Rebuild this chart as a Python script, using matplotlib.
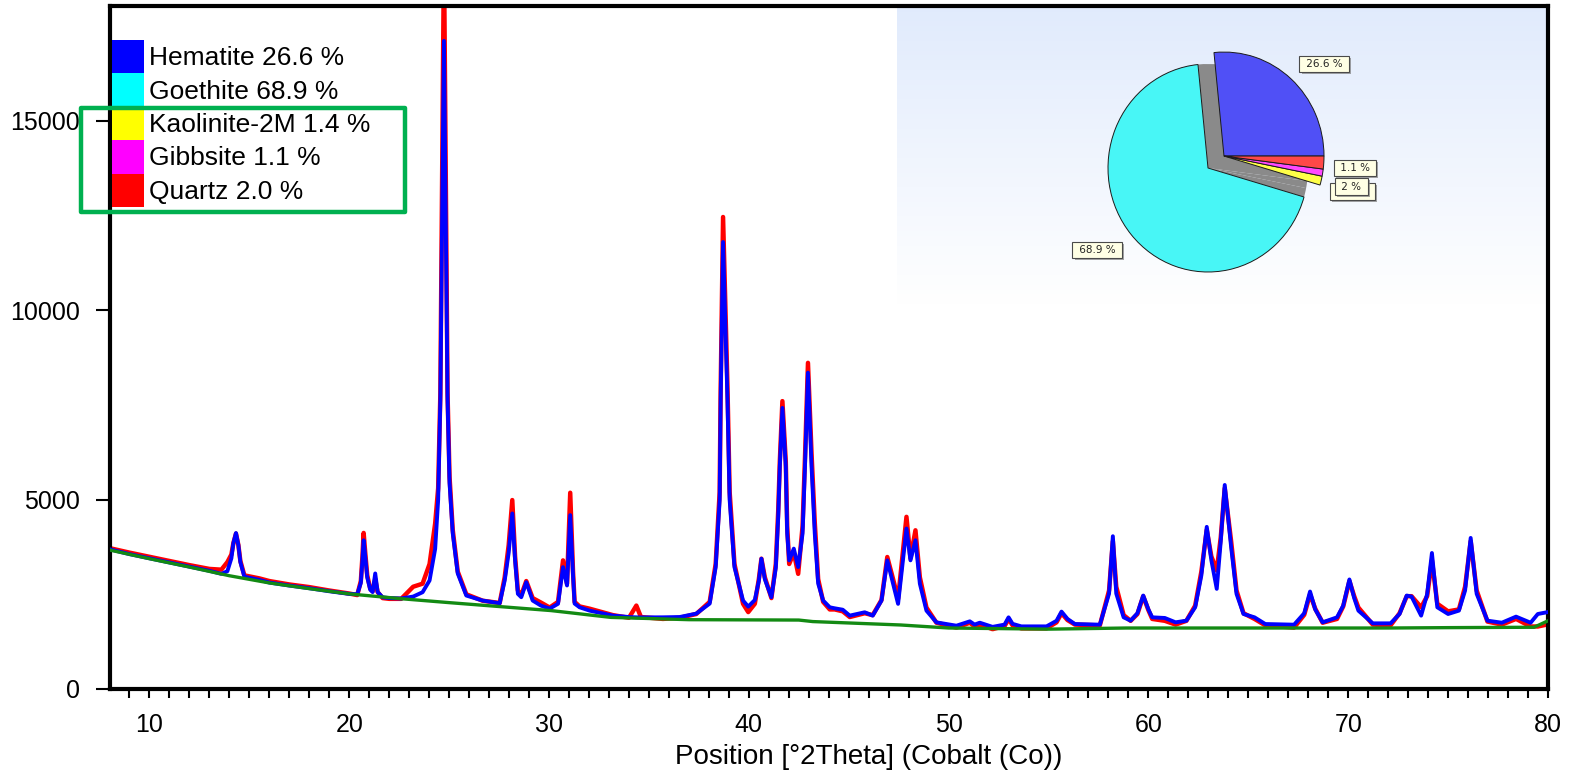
import numpy as np
import matplotlib
matplotlib.use("Agg")
import matplotlib.pyplot as plt
import matplotlib.patheffects as pe
from matplotlib.patches import Patch, Rectangle

plt.rcParams['font.family'] = ['Liberation Sans', 'DejaVu Sans']

# phases and refined weight fractions
phases = ['Hematite', 'Goethite', 'Kaolinite-2M', 'Gibbsite', 'Quartz']
percent = [26.6, 68.9, 1.4, 1.1, 2.0]
legend_colors = ['#0000ff', '#00ffff', '#ffff00', '#ff00ff', '#ff0000']
pie_colors = ['#5050f6', '#48f6f6', '#ffff48', '#ff48ff', '#ff4848']
pie_labels = ['26.6 %', '68.9 %', '', '1.1 %', '2 %']

two_theta = [8.0, 9.0, 10.0, 11.0, 12.0, 13.0, 13.6, 13.9, 14.1, 14.2, 14.33, 14.45, 14.55, 14.75,
             15.5, 16.0, 17.0, 18.0, 19.0, 20.0, 20.4, 20.58, 20.66, 20.72, 20.8, 20.9, 21.05, 21.17,
             21.3, 21.42, 21.67, 22.0, 22.6, 23.2, 23.67, 24.02, 24.3, 24.45, 24.56, 24.64, 24.74,
             24.84, 24.92, 25.02, 25.18, 25.43, 25.86, 26.68, 27.53, 27.78, 27.98, 28.16, 28.3, 28.44,
             28.61, 28.86, 29.18, 29.6, 30.03, 30.45, 30.7, 30.9, 31.06, 31.2, 31.28, 31.53, 32.03,
             33.2, 34.0, 34.37, 34.6, 35.7, 36.54, 37.37, 38.04, 38.34, 38.54, 38.59, 38.71, 38.93,
             39.04, 39.28, 39.71, 39.97, 40.3, 40.5, 40.63, 40.8, 41.13, 41.35, 41.47, 41.55, 41.68,
             41.85, 41.92, 42.02, 42.25, 42.47, 42.69, 42.81, 42.96, 43.14, 43.3, 43.47, 43.72, 44.05,
             44.3, 44.7, 45.05, 45.8, 46.2, 46.64, 46.93, 47.22, 47.47, 47.89, 48.09, 48.34, 48.56,
             48.89, 49.39, 50.39, 51.06, 51.3, 51.56, 52.2, 52.8, 53.0, 53.2, 53.64, 54.9, 55.4, 55.65,
             55.95, 56.32, 57.57, 58.03, 58.22, 58.39, 58.76, 59.11, 59.45, 59.74, 60.0, 60.19, 60.82,
             61.36, 61.9, 62.34, 62.65, 62.92, 63.15, 63.42, 63.62, 63.82, 64.14, 64.41, 64.76, 65.31,
             65.85, 67.29, 67.8, 68.09, 68.35, 68.72, 69.44, 69.75, 70.06, 70.3, 70.51, 71.23, 72.12,
             72.57, 72.93, 73.17, 73.65, 73.95, 74.19, 74.46, 75.0, 75.54, 75.85, 76.13, 76.43, 76.97,
             77.69, 78.4, 79.13, 79.49, 79.94]
calc = [3690, 3560, 3450, 3340, 3230, 3120, 3040, 3110, 3450, 3850, 4118, 3800, 3350, 2965,
        2880, 2810, 2730, 2660, 2580, 2510, 2500, 2800, 3400, 3926, 3500, 2950, 2620, 2560,
        3050, 2560, 2420, 2400, 2390, 2440, 2555, 2865, 3700, 5000, 7640, 12000, 17110,
        12000, 7640, 5440, 4110, 3050, 2467, 2334, 2264, 2865, 3600, 4634, 3400, 2512,
        2423, 2820, 2335, 2200, 2122, 2250, 3218, 2733, 4590, 3000, 2255, 2157, 2069,
        1937, 1900, 1892, 1890, 1892, 1900, 1990, 2255, 3218, 4990, 7640, 11800, 7640,
        4990, 3218, 2335, 2175, 2350, 2850, 3440, 2900, 2423, 3200, 4545, 5870, 7420,
        5870, 4110, 3396, 3706, 3218, 4110, 5870, 8350, 5870, 4110, 2785, 2335, 2157,
        2130, 2093, 1937, 2025, 1937, 2335, 3396, 2780, 2247, 4236, 3396, 3926, 2780,
        2069, 1759, 1671, 1786, 1700, 1750, 1640, 1700, 1892, 1720, 1653, 1653, 1800, 2043,
        1850, 1715, 1698, 2520, 4033, 2520, 1892, 1804, 2000, 2467, 2100, 1892, 1875,
        1760, 1804, 2157, 3000, 4280, 3400, 2644, 3900, 5386, 3750, 2512, 1980, 1892,
        1715, 1698, 2000, 2573, 2100, 1760, 1892, 2200, 2892, 2400, 2069, 1733, 1733,
        1980, 2467, 2440, 1937, 2500, 3590, 2157, 1980, 2069, 2600, 3988, 2512, 1804,
        1750, 1910, 1750, 1980, 2025]
obs = [3720, 3600, 3490, 3380, 3270, 3170, 3150, 3350, 3550, 3850, 4100, 3800, 3380, 3000,
       2920, 2850, 2760, 2690, 2600, 2520, 2480, 2850, 3500, 4120, 3600, 3000, 2650, 2580,
       2900, 2560, 2400, 2380, 2380, 2700, 2780, 3300, 4370, 5300, 7800, 13000, 19500,
       13000, 7800, 5600, 4200, 3100, 2500, 2330, 2270, 2950, 3800, 4988, 3500, 2600,
       2480, 2850, 2400, 2280, 2150, 2300, 3395, 2780, 5181, 3100, 2300, 2180, 2120,
       1950, 1880, 2202, 1900, 1850, 1880, 1980, 2300, 3300, 5200, 7900, 12460, 8000,
       5200, 3300, 2250, 2030, 2250, 2900, 3440, 2950, 2400, 3300, 4700, 6000, 7600,
       6000, 4300, 3300, 3600, 3040, 4300, 6100, 8610, 6200, 4400, 2900, 2300, 2100,
       2100, 2050, 1900, 2000, 1950, 2350, 3484, 2900, 2380, 4545, 3450, 4190, 2950,
       2150, 1750, 1620, 1750, 1650, 1700, 1580, 1660, 1850, 1680, 1600, 1600, 1760, 2000,
       1820, 1700, 1680, 2600, 3900, 2700, 1950, 1800, 1980, 2450, 2080, 1850, 1800,
       1700, 1800, 2200, 3100, 4200, 3500, 3130, 4000, 5300, 3900, 2600, 2000, 1850,
       1680, 1620, 1960, 2500, 2120, 1750, 1850, 2180, 2850, 2450, 2150, 1700, 1680,
       2000, 2450, 2450, 2157, 2450, 3400, 2250, 2050, 2100, 2700, 3900, 2600, 1780,
       1700, 1850, 1650, 1650, 1700]

# fitted background
bg_theta = [8.0, 10.0, 12.0, 14.0, 16.0, 18.0, 20.0, 22.77, 25.0, 30.1, 33.1, 37.0, 42.5, 43.2,
            47.6, 50.0, 55.0, 58.9, 65.0, 72.0, 75.0, 79.3, 80.0]
bg_counts = [3670, 3440, 3220, 2990, 2800, 2650, 2510, 2376, 2280, 2070, 1890, 1830, 1820, 1780,
             1690, 1610, 1580, 1610, 1610, 1610, 1620, 1630, 1800]

W, H = 1577, 778
fig = plt.figure(figsize=(W / 100, H / 100), dpi=100)

# light blue backdrop behind the pie
panel = fig.add_axes([897 / W, 1 - 305 / H, (1548 - 897) / W, 299 / H], zorder=0)
rows = np.linspace(0, 1, 200)[:, None]
top_rgb = np.array([0.88, 0.92, 0.99])
grad = top_rgb[None, None, :] * (1 - rows[..., None]) + np.ones(3)[None, None, :] * rows[..., None]
grad = np.repeat(grad, 2, axis=1)
panel.imshow(grad, aspect='auto', extent=[0, 1, 0, 1], interpolation='bilinear')
panel.axis('off')

ax = fig.add_axes([109.5 / W, 1 - 689 / H, (1548 - 109.5) / W, (689 - 6) / H], zorder=1)
ax.set_facecolor('none')
ax.plot(two_theta, obs, color='#ff0000', lw=3.2, zorder=2)
ax.plot(two_theta, calc, color='#0000ff', lw=2.8, zorder=3)
ax.plot(bg_theta, bg_counts, color='#138a13', lw=2.4, zorder=4)

ax.set_xlim(8, 80)
ax.set_ylim(0, 18030)
ax.set_xticks(range(10, 81, 10))
ax.set_xticks(range(9, 81, 1), minor=True)
ax.set_yticks([0, 5000, 10000, 15000])
ax.tick_params(axis='x', which='both', direction='out', length=6.5, width=1.5, labelsize=18, pad=11)
ax.tick_params(axis='y', direction='out', length=10, width=1.5, labelsize=18, pad=11.4)
for s in ax.spines.values():
    s.set_linewidth(3)
ax.set_xlabel('Position [°2Theta] (Cobalt (Co))', fontsize=20, labelpad=5, x=0.528)

handles = [Patch(facecolor=c, edgecolor='none') for c in legend_colors]
labels = [f'{p} {v:.1f} %' for p, v in zip(phases, percent)]
ax.legend(handles, labels, loc='upper left', bbox_to_anchor=(112 / W, 1 - 40 / H),
          bbox_transform=fig.transFigure, frameon=False, fontsize=19, borderpad=0,
          borderaxespad=0, labelspacing=0, handlelength=1.21, handleheight=1.569,
          handletextpad=0.2)

fig.add_artist(Rectangle((81 / W, 1 - 212 / H), 324 / W, 104 / H, transform=fig.transFigure,
                         fill=False, edgecolor='#00b050', lw=3.2, joinstyle='round', zorder=10))

# pie of the phase fractions
pie_ax = fig.add_axes([1058 / W, (H - 168 - 156) / H, 300 / W, 312 / H], zorder=2)
shadow, _ = pie_ax.pie(percent, colors=['#8a8a8a'] * 5, startangle=0, counterclock=True,
                       wedgeprops=dict(linewidth=0))
shadow[1].set_visible(False)
wedges, _ = pie_ax.pie(percent, colors=pie_colors, startangle=0, counterclock=True,
                       wedgeprops=dict(edgecolor='#1a1a1a', linewidth=0.7))
for i in [0, 2, 3, 4]:
    wedges[i].set_center((0.16, 0.115))
pie_ax.set_aspect('auto')
pie_ax.set_xlim(-1.5, 1.5)
pie_ax.set_ylim(-1.5, 1.5)
pie_ax.axis('off')

box_shadow = [pe.withSimplePatchShadow(offset=(1.5, -1.5), shadow_rgbFace='#808080', alpha=0.7)]
# box of the Kaolinite label, hidden behind the "2 %" box
back = Rectangle((1.22, -0.31), 0.45, 0.17, fc='#ffffe4', ec='#4a4a4a', lw=0.8, zorder=3,
                 clip_on=False)
back.set_path_effects(box_shadow)
pie_ax.add_patch(back)
label_pos = [(1.16, 1.0), (-1.11, -0.79), None, (1.47, 0.0), (1.435, -0.178)]
for k in [0, 1, 3, 4]:
    t = pie_ax.text(*label_pos[k], f' {pie_labels[k]} ', ha='center', va='center',
                    fontsize=7.5, family='DejaVu Sans', color='#222222',
                    bbox=dict(boxstyle='square,pad=0.3', fc='#ffffe4', ec='#4a4a4a', lw=0.8),
                    zorder=4)
    t.get_bbox_patch().set_path_effects(box_shadow)

fig.savefig('out.png', dpi=100)
